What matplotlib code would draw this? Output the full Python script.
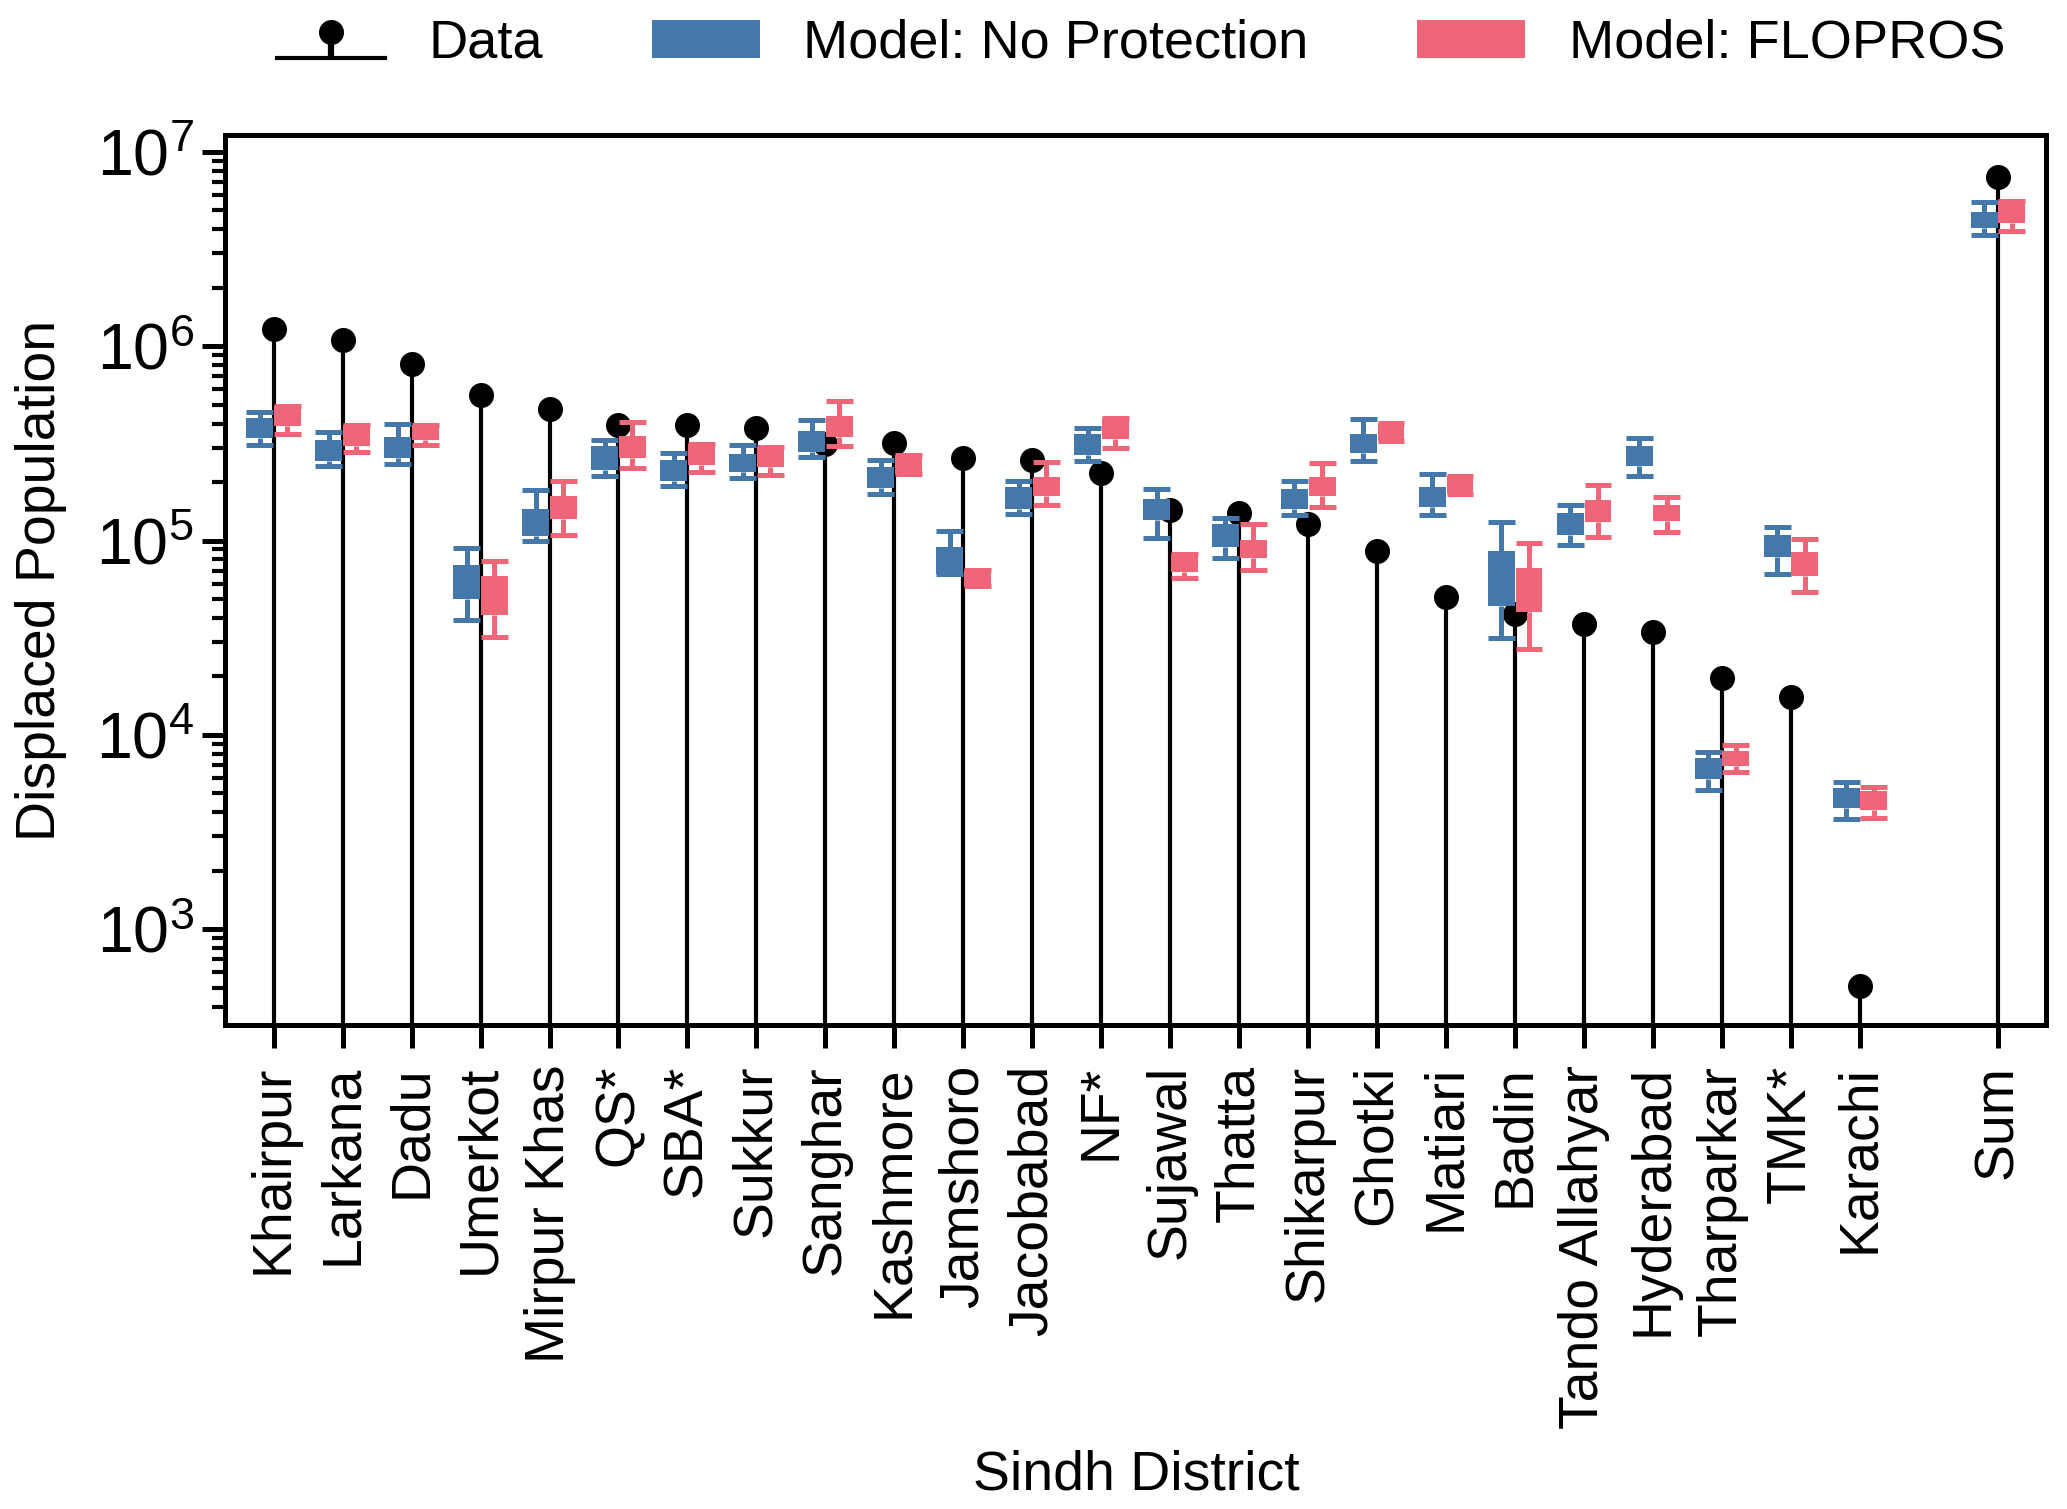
import numpy as np
import matplotlib
matplotlib.use('Agg')
import matplotlib.pyplot as plt
from matplotlib.patches import Patch

plt.rcParams['font.family'] = ['Liberation Sans', 'DejaVu Sans']
plt.rcParams['mathtext.default'] = 'regular'
plt.rcParams['font.size'] = 13

districts = ['Khairpur', 'Larkana', 'Dadu', 'Umerkot', 'Mirpur Khas', 'QS*', 'SBA*',
             'Sukkur', 'Sanghar', 'Kashmore', 'Jamshoro', 'Jacobabad', 'NF*', 'Sujawal',
             'Thatta', 'Shikarpur', 'Ghotki', 'Matiari', 'Badin', 'Tando Allahyar',
             'Hyderabad', 'Tharparkar', 'TMK*', 'Karachi', 'Sum']

# observed displaced population
data = [1.22e6, 1.08e6, 8.1e5, 5.6e5, 4.75e5, 3.95e5, 3.93e5, 3.8e5, 3.15e5, 3.16e5,
        2.67e5, 2.6e5, 2.23e5, 1.43e5, 1.39e5, 1.21e5, 8.8e4, 5.15e4, 4.2e4, 3.7e4,
        3.38e4, 1.95e4, 1.56e4, 512, 7.45e6]

# model: no protection (whisker low, q1, q3, whisker high)
np_lo = [3.1e5, 2.42e5, 2.48e5, 3.9e4, 9.9e4, 2.15e5, 1.9e5, 2.1e5, 2.7e5, 1.73e5,
         6.7e4, 1.37e5, 2.57e5, 1.03e5, 8.1e4, 1.36e5, 2.58e5, 1.36e5, 3.15e4, 9.5e4,
         2.14e5, 5.2e3, 6.7e4, 3.7e3, 3.75e6]
np_q1 = [3.35e5, 2.58e5, 2.65e5, 5.0e4, 1.05e5, 2.3e5, 2.03e5, 2.25e5, 2.85e5, 1.87e5,
         6.7e4, 1.46e5, 2.77e5, 1.28e5, 9.3e4, 1.46e5, 2.83e5, 1.49e5, 4.6e4, 1.07e5,
         2.42e5, 5.9e3, 8.2e4, 4.2e3, 4.05e6]
np_q3 = [4.25e5, 3.3e5, 3.4e5, 7.5e4, 1.45e5, 3.05e5, 2.6e5, 2.8e5, 3.65e5, 2.4e5,
         9.3e4, 1.88e5, 3.52e5, 1.64e5, 1.22e5, 1.85e5, 3.54e5, 1.89e5, 8.8e4, 1.38e5,
         3.05e5, 7.6e3, 1.07e5, 5.3e3, 4.9e6]
np_hi = [4.6e5, 3.6e5, 4.0e5, 9.2e4, 1.82e5, 3.3e5, 2.83e5, 3.1e5, 4.15e5, 2.6e5,
         1.12e5, 2.03e5, 3.8e5, 1.85e5, 1.31e5, 2.03e5, 4.2e5, 2.2e5, 1.25e5, 1.53e5,
         3.37e5, 8.2e3, 1.18e5, 5.75e3, 5.5e6]

# model: FLOPROS
fl_lo = [3.54e5, 2.85e5, 3.1e5, 3.18e4, 1.07e5, 2.36e5, 2.25e5, 2.18e5, 3.05e5, 2.21e5,
         5.8e4, 1.52e5, 3.0e5, 6.45e4, 7.05e4, 1.49e5, 3.24e5, 1.73e5, 2.75e4, 1.04e5,
         1.1e5, 6.45e3, 5.45e4, 3.72e3, 3.93e6]
fl_q1 = [3.87e5, 3.08e5, 3.3e5, 4.15e4, 1.29e5, 2.66e5, 2.44e5, 2.39e5, 3.4e5, 2.21e5,
         5.8e4, 1.7e5, 3.33e5, 6.9e4, 8.1e4, 1.7e5, 3.24e5, 1.73e5, 4.28e4, 1.24e5,
         1.26e5, 6.9e3, 6.6e4, 4.1e3, 4.3e6]
fl_q3 = [4.9e5, 3.94e5, 3.94e5, 6.6e4, 1.69e5, 3.43e5, 3.15e5, 3.03e5, 4.36e5, 2.74e5,
         7.05e4, 2.12e5, 4.26e5, 8.5e4, 1.01e5, 2.12e5, 4.03e5, 2.14e5, 7.26e4, 1.62e5,
         1.52e5, 8.3e3, 8.7e4, 5.14e3, 5.58e6]
fl_hi = [4.9e5, 3.94e5, 3.94e5, 7.8e4, 2.03e5, 4.07e5, 3.15e5, 3.03e5, 5.2e5, 2.74e5,
         7.05e4, 2.54e5, 4.26e5, 8.5e4, 1.22e5, 2.52e5, 4.03e5, 2.14e5, 9.7e4, 1.94e5,
         1.68e5, 8.9e3, 1.02e5, 5.4e3, 5.58e6]

blue = '#4477AA'
pink = '#EE6677'

x = np.array(list(range(len(districts) - 1)) + [len(districts)], dtype=float)


def make_stats(lo, q1, q3, hi):
    return [dict(whislo=a, q1=b, med=b, q3=c, whishi=d, fliers=[])
            for a, b, c, d in zip(lo, q1, q3, hi)]


fig = plt.figure(figsize=(6.89, 5.03), dpi=300)
ax = fig.add_axes([0.109, 0.3205, 0.881, 0.590])

stem = ax.stem(x, data, linefmt='k-', markerfmt='ko', basefmt='k-', bottom=1,
               label='Data')
stem.stemlines.set_linewidth(1.0)
stem.stemlines.set_zorder(1)
stem.baseline.set_linewidth(1.0)
stem.markerline.set_markersize(5)
stem.markerline.set_zorder(1.5)

w = 0.39
for col, stats, off in [(blue, make_stats(np_lo, np_q1, np_q3, np_hi), -0.2),
                        (pink, make_stats(fl_lo, fl_q1, fl_q3, fl_hi), 0.2)]:
    ax.bxp(stats, positions=x + off, widths=w, capwidths=w, patch_artist=True,
           showfliers=False, manage_ticks=False,
           boxprops=dict(facecolor=col, edgecolor='none', linewidth=0, zorder=3),
           whiskerprops=dict(color=col, linewidth=1.2, solid_capstyle='butt', zorder=3),
           capprops=dict(color=col, linewidth=1.2, solid_capstyle='butt', zorder=3),
           medianprops=dict(visible=False))

ax.set_yscale('log')
ax.set_ylim(320, 1.22e7)
ax.set_xlim(-0.7, 25.7)
ax.set_xticks(x)
ax.set_xticklabels(districts, rotation=90)
ax.minorticks_off()
ax.yaxis.set_minor_locator(matplotlib.ticker.LogLocator(base=10, subs=np.arange(2, 10), numticks=20))
ax.yaxis.set_minor_formatter(matplotlib.ticker.NullFormatter())

for s in ax.spines.values():
    s.set_linewidth(1.2)
ax.tick_params(axis='both', which='major', direction='out', length=5.5, width=1.2)
ax.tick_params(axis='x', which='major', pad=4, labelsize=13.3)
ax.tick_params(axis='y', which='major', pad=2, labelsize=15.5)
ax.tick_params(axis='y', which='minor', direction='out', length=3.2, width=1.0)

ax.set_xlabel('Sindh District', fontsize=13.3, labelpad=5)
ax.set_ylabel('Displaced Population', fontsize=13.3, labelpad=7)

handles = [stem, Patch(facecolor=blue, label='Model: No Protection'),
           Patch(facecolor=pink, label='Model: FLOPROS')]
fig.legend(handles=handles, labels=['Data', 'Model: No Protection', 'Model: FLOPROS'],
           loc='center', bbox_to_anchor=(0.552, 0.971), ncol=3, frameon=False,
           fontsize=13)

fig.savefig('out.png', dpi=300)
